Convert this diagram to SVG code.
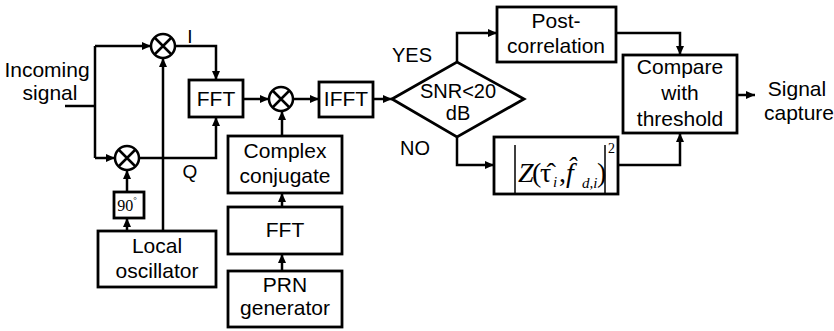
<svg xmlns="http://www.w3.org/2000/svg" width="834" height="331" viewBox="0 0 834 331">
<defs>
<marker id="arr" markerUnits="userSpaceOnUse" markerWidth="10" markerHeight="10" refX="9" refY="4" orient="auto">
<path d="M0,0 L9,4 L0,8 z" fill="#000"/>
</marker>
<style>
.box{fill:#fff;stroke:#000;stroke-width:2.8}
.w{fill:none;stroke:#000;stroke-width:2.5}
.a{marker-end:url(#arr)}
.mx{fill:#fff;stroke:#000;stroke-width:2.5}
.t{font-family:"Liberation Sans",Arial,sans-serif;font-size:21px;fill:#000;text-anchor:middle}
.s{font-family:"Liberation Serif","Times New Roman",serif;fill:#000}
</style>
</defs>
<rect width="834" height="331" fill="#fff"/>

<g id="connectors">
<path class="w" d="M65,106 H95"/>
<path class="w" d="M95,46 V158"/>
<path class="w a" d="M95,46 H151"/>
<path class="w a" d="M95,158 H115"/>
<path class="w a" d="M175,46 H216 V80"/>
<path class="w a" d="M139,158 H216 V117"/>
<path class="w a" d="M163,231 V58"/>
<path class="w a" d="M127,231 V218"/>
<path class="w a" d="M127,192 V170"/>
<path class="w a" d="M243,99 H269"/>
<path class="w a" d="M293,99 H319"/>
<path class="w a" d="M282,136 V111"/>
<path class="w a" d="M282,207 V193"/>
<path class="w a" d="M282,271 V254"/>
<path class="w a" d="M373,99 H392"/>
<path class="w a" d="M457,62 V33 H497"/>
<path class="w a" d="M457,137 V165 H494"/>
<path class="w a" d="M616,33 H680 V55"/>
<path class="w a" d="M618,165 H680 V133"/>
<path class="w a" d="M737,95 H755"/>
</g>

<g id="label-incoming">
<text class="t" x="47" y="77">Incoming</text>
<text class="t" x="50" y="100">signal</text>
</g>
<g id="label-I"><text class="t" x="190" y="43" style="font-size:19px">I</text></g>
<g id="label-Q"><text class="t" x="190" y="178" style="font-size:19px">Q</text></g>

<g id="mixer-I">
<circle class="mx" cx="163" cy="46" r="12"/>
<path class="w" d="M154.5,37.5 L171.5,54.5 M171.5,37.5 L154.5,54.5"/>
</g>
<g id="mixer-Q">
<circle class="mx" cx="127" cy="158" r="12"/>
<path class="w" d="M118.5,149.5 L135.5,166.5 M135.5,149.5 L118.5,166.5"/>
</g>
<g id="mixer-corr">
<circle class="mx" cx="281" cy="99" r="12"/>
<path class="w" d="M272.5,90.5 L289.5,107.5 M289.5,90.5 L272.5,107.5"/>
</g>

<g id="phase90">
<rect class="box" x="114" y="192" width="30" height="26"/>
<text class="s" x="127" y="211" text-anchor="middle" font-size="16">90<tspan font-size="9" dy="-8">°</tspan></text>
</g>

<g id="local-osc">
<rect class="box" x="98" y="231" width="118" height="56"/>
<text class="t" x="157" y="253">Local</text>
<text class="t" x="157" y="278">oscillator</text>
</g>

<g id="fft1">
<rect class="box" x="189" y="80" width="54" height="37"/>
<text class="t" x="216" y="106">FFT</text>
</g>

<g id="ifft">
<rect class="box" x="319" y="82" width="54" height="35"/>
<text class="t" x="346" y="106">IFFT</text>
</g>

<g id="conj">
<rect class="box" x="228" y="136" width="114" height="57"/>
<text class="t" x="285" y="158">Complex</text>
<text class="t" x="285" y="183">conjugate</text>
</g>

<g id="fft2">
<rect class="box" x="228" y="207" width="114" height="47"/>
<text class="t" x="285" y="237">FFT</text>
</g>

<g id="prn">
<rect class="box" x="228" y="271" width="114" height="56"/>
<text class="t" x="285" y="292">PRN</text>
<text class="t" x="285" y="315">generator</text>
</g>

<g id="decision">
<path class="box" d="M392,99 L457,62 L524,99 L457,137 z"/>
<text class="t" x="458" y="98" style="font-size:20px">SNR&lt;20</text>
<text class="t" x="458" y="120" style="font-size:20px">dB</text>
</g>
<g id="label-yes"><text class="t" x="412" y="62" style="font-size:20px">YES</text></g>
<g id="label-no"><text class="t" x="415" y="155" style="font-size:20px">NO</text></g>

<g id="postcorr">
<rect class="box" x="497" y="7" width="119" height="55"/>
<text class="t" x="556" y="28">Post-</text>
<text class="t" x="556" y="53">correlation</text>
</g>

<g id="zbox">
<rect class="box" x="494" y="137" width="124" height="57"/>
<path fill="none" stroke="#000" stroke-width="1.5" d="M515,145 V194 M605,145 V194"/>
<text class="s" font-style="italic" font-size="28">
<tspan x="518" y="182">Z</tspan>
<tspan x="532" y="182" font-style="normal">(</tspan>
<tspan x="540" y="182" font-style="normal">τ̂</tspan>
<tspan x="553" y="187" font-size="15">i</tspan>
<tspan x="559" y="182" font-style="normal">,</tspan>
<tspan x="566" y="182">f̂</tspan>
<tspan x="582" y="188" font-size="15">d,i</tspan>
<tspan x="597" y="182" font-style="normal">)</tspan>
<tspan x="608" y="153" font-style="normal" font-size="14">2</tspan>
</text>
</g>

<g id="compare">
<rect class="box" x="623" y="55" width="114" height="78"/>
<text class="t" x="680" y="74">Compare</text>
<text class="t" x="680" y="100">with</text>
<text class="t" x="680" y="126">threshold</text>
</g>

<g id="label-capture">
<text class="t" x="797" y="96">Signal</text>
<text class="t" x="799" y="120">capture</text>
</g>
</svg>
